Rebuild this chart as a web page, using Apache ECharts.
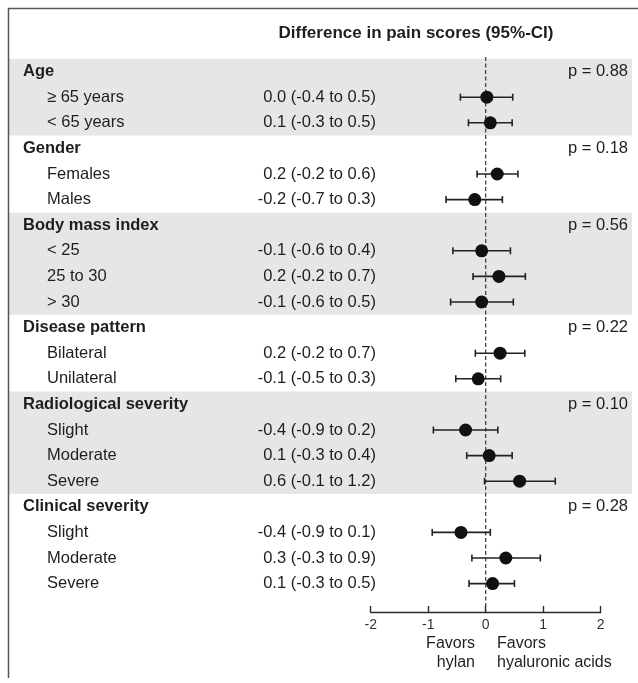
<!DOCTYPE html>
<html>
<head>
<meta charset="utf-8">
<script src="https://cdn.jsdelivr.net/npm/echarts@6/dist/echarts.min.js"></script>
<style>html,body{margin:0;padding:0;background:#fff;}#c{width:638px;height:683px;}</style>
</head>
<body>
<div id="c"></div>
<script>
const chartTitle = 'Difference in pain scores (95%-CI)';
const groupNames = ['Age','Gender','Body mass index','Disease pattern','Radiological severity','Clinical severity'];
const pValues = ['p = 0.88','p = 0.18','p = 0.56','p = 0.22','p = 0.10','p = 0.28'];
const subgroupLabels = [
  ['≥ 65 years','< 65 years'],
  ['Females','Males'],
  ['< 25','25 to 30','> 30'],
  ['Bilateral','Unilateral'],
  ['Slight','Moderate','Severe'],
  ['Slight','Moderate','Severe']
];
const ciTexts = [
  ['0.0 (-0.4 to 0.5)','0.1 (-0.3 to 0.5)'],
  ['0.2 (-0.2 to 0.6)','-0.2 (-0.7 to 0.3)'],
  ['-0.1 (-0.6 to 0.4)','0.2 (-0.2 to 0.7)','-0.1 (-0.6 to 0.5)'],
  ['0.2 (-0.2 to 0.7)','-0.1 (-0.5 to 0.3)'],
  ['-0.4 (-0.9 to 0.2)','0.1 (-0.3 to 0.4)','0.6 (-0.1 to 1.2)'],
  ['-0.4 (-0.9 to 0.1)','0.3 (-0.3 to 0.9)','0.1 (-0.3 to 0.5)']
];
const estimates = [[0.02,0.08],[0.20,-0.19],[-0.07,0.23,-0.07],[0.25,-0.13],[-0.35,0.06,0.59],[-0.43,0.35,0.12]];
const lowerCI   = [[-0.44,-0.30],[-0.15,-0.69],[-0.57,-0.22,-0.61],[-0.18,-0.52],[-0.91,-0.33,-0.02],[-0.93,-0.24,-0.29]];
const upperCI   = [[0.47,0.46],[0.56,0.29],[0.43,0.69,0.48],[0.68,0.26],[0.21,0.46,1.21],[0.08,0.95,0.50]];
const xTicks = [-2,-1,0,1,2];
const favorLeft = ['Favors','hylan'];
const favorRight = ['Favors','hyaluronic acids'];

// build rows
const textRows = [];
const ciRows = [];   // [est, row, lo, hi]
const bands = [];    // [startRow, endRow]
let r = 0;
groupNames.forEach((g, gi) => {
  const start = r;
  textRows.push({row: r, kind: 'h', label: g, p: pValues[gi]});
  r++;
  subgroupLabels[gi].forEach((s, si) => {
    textRows.push({row: r, kind: 's', label: s, ci: ciTexts[gi][si]});
    ciRows.push([estimates[gi][si], r, lowerCI[gi][si], upperCI[gi][si]]);
    r++;
  });
  if (gi % 2 === 0) bands.push([start, r - 1]);
});

const FONT = '"Liberation Sans", Arial, Helvetica, sans-serif';
const TXT = '#1e1e1e';
const yMin = -0.57, yMax = 21.11;
const gridTop = 57, gridBottom = 71;

const chart = echarts.init(document.getElementById('c'), null, {renderer: 'canvas'});
chart.setOption({
  animation: false,
  backgroundColor: '#fff',
  grid: [
    {left: 8, right: 6, top: gridTop, bottom: gridBottom},
    {left: 370.7, right: 37.3, top: gridTop, bottom: gridBottom}
  ],
  xAxis: [
    {gridIndex: 0, type: 'value', min: 0, max: 624, show: false},
    {gridIndex: 1, type: 'value', min: xTicks[0], max: xTicks[xTicks.length-1], interval: 1, position: 'bottom', z: 8,
     axisLine: {show: true, onZero: false, lineStyle: {color: '#2a2a2a', width: 1.4}},
     axisTick: {show: true, inside: true, length: 6, lineStyle: {color: '#2a2a2a', width: 1.4}},
     axisLabel: {color: '#333', fontFamily: FONT, fontSize: 14, margin: 6},
     splitLine: {show: false}}
  ],
  yAxis: [
    {gridIndex: 0, type: 'value', min: yMin, max: yMax, inverse: true, show: false},
    {gridIndex: 1, type: 'value', min: yMin, max: yMax, inverse: true, show: false}
  ],
  graphic: [
    {type: 'line', shape: {x1: 8, y1: 8.5, x2: 638, y2: 8.5}, style: {stroke: '#555', lineWidth: 1.5}, z: 10},
    {type: 'line', shape: {x1: 8.5, y1: 8, x2: 8.5, y2: 678}, style: {stroke: '#555', lineWidth: 1.5}, z: 10},
    {type: 'text', x: 416, y: 33, style: {text: chartTitle, font: 'bold 17px ' + FONT, fill: TXT, textAlign: 'center', textVerticalAlign: 'middle', verticalAlign: 'middle'}},
    {type: 'text', x: 475, y: 644, style: {text: favorLeft[0], font: '16px ' + FONT, fill: TXT, textAlign: 'right', textVerticalAlign: 'middle', verticalAlign: 'middle'}},
    {type: 'text', x: 475, y: 663, style: {text: favorLeft[1], font: '16px ' + FONT, fill: TXT, textAlign: 'right', textVerticalAlign: 'middle', verticalAlign: 'middle'}},
    {type: 'text', x: 497, y: 644, style: {text: favorRight[0], font: '16px ' + FONT, fill: TXT, textAlign: 'left', textVerticalAlign: 'middle', verticalAlign: 'middle'}},
    {type: 'text', x: 497, y: 663, style: {text: favorRight[1], font: '16px ' + FONT, fill: TXT, textAlign: 'left', textVerticalAlign: 'middle', verticalAlign: 'middle'}}
  ],
  series: [
    {
      type: 'custom', xAxisIndex: 0, yAxisIndex: 0, z: 1, silent: true,
      data: bands,
      renderItem: function (params, api) {
        const p1 = api.coord([0, api.value(0) - 0.5]);
        const p2 = api.coord([624, api.value(1) + 0.5]);
        return {type: 'rect', shape: {x: p1[0], y: p1[1], width: p2[0] - p1[0], height: p2[1] - p1[1]}, style: {fill: '#e6e6e6'}};
      }
    },
    {
      type: 'custom', xAxisIndex: 0, yAxisIndex: 0, z: 5, silent: true,
      data: textRows.map(t => [t.row]),
      renderItem: function (params, api) {
        const t = textRows[params.dataIndex];
        const y = api.coord([0, api.value(0)])[1];
        const children = [];
        if (t.kind === 'h') {
          children.push({type: 'text', style: {x: api.coord([15, 0])[0], y: y, text: t.label, font: 'bold 16.5px ' + FONT, fill: TXT, textAlign: 'left', textVerticalAlign: 'middle', verticalAlign: 'middle'}});
          children.push({type: 'text', style: {x: api.coord([620, 0])[0], y: y, text: t.p, font: '16.5px ' + FONT, fill: TXT, textAlign: 'right', textVerticalAlign: 'middle', verticalAlign: 'middle'}});
        } else {
          children.push({type: 'text', style: {x: api.coord([39, 0])[0], y: y, text: t.label, font: '16.5px ' + FONT, fill: TXT, textAlign: 'left', textVerticalAlign: 'middle', verticalAlign: 'middle'}});
          children.push({type: 'text', style: {x: api.coord([368, 0])[0], y: y, text: t.ci, font: '16.5px ' + FONT, fill: TXT, textAlign: 'right', textVerticalAlign: 'middle', verticalAlign: 'middle'}});
        }
        return {type: 'group', children: children};
      }
    },
    {
      type: 'line', xAxisIndex: 1, yAxisIndex: 1, z: 3, silent: true,
      symbol: 'none',
      data: [[0, yMin], [0, yMax]],
      lineStyle: {color: '#333', width: 1.2, type: [4, 2.5]}
    },
    {
      type: 'custom', xAxisIndex: 1, yAxisIndex: 1, z: 6, silent: true,
      data: ciRows,
      encode: {x: [0, 2, 3], y: 1},
      renderItem: function (params, api) {
        const c = api.coord([api.value(0), api.value(1)]);
        const lo = api.coord([api.value(2), api.value(1)]);
        const hi = api.coord([api.value(3), api.value(1)]);
        const cap = 3.5;
        const st = {stroke: '#222', lineWidth: 1.6};
        return {type: 'group', children: [
          {type: 'line', shape: {x1: lo[0], y1: c[1], x2: hi[0], y2: c[1]}, style: st},
          {type: 'line', shape: {x1: lo[0], y1: c[1] - cap, x2: lo[0], y2: c[1] + cap}, style: st},
          {type: 'line', shape: {x1: hi[0], y1: c[1] - cap, x2: hi[0], y2: c[1] + cap}, style: st},
          {type: 'circle', shape: {cx: c[0], cy: c[1], r: 6.5}, style: {fill: '#111'}}
        ]};
      }
    }
  ]
});
</script>
</body>
</html>
